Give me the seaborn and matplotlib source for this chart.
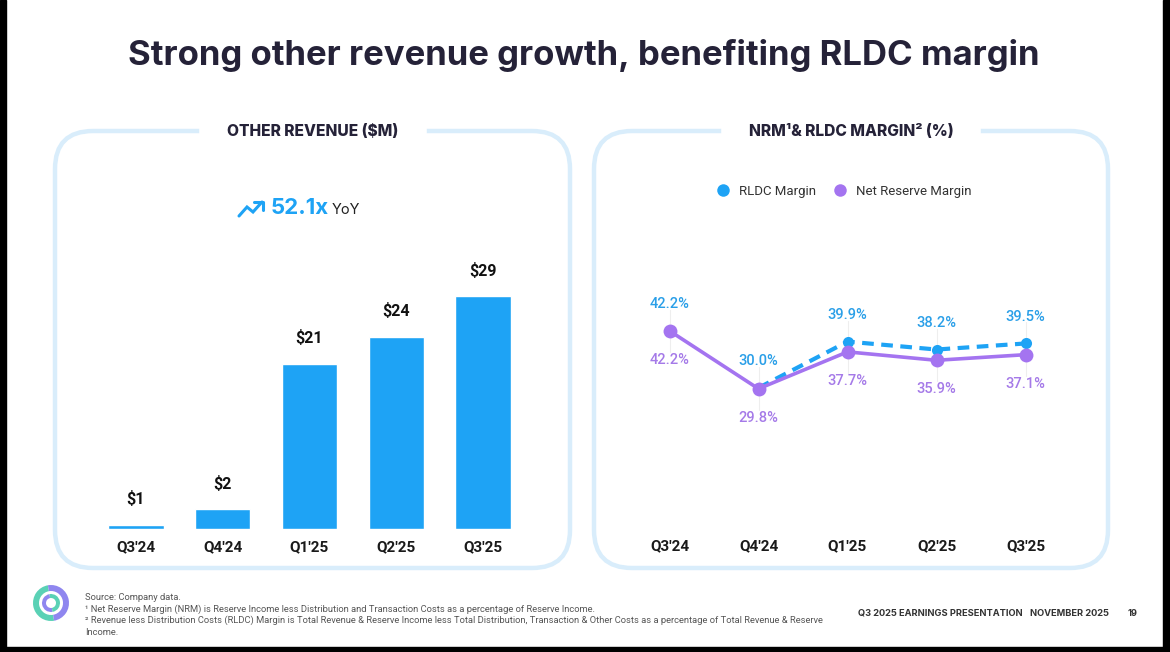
import matplotlib
matplotlib.use("Agg")
import matplotlib.pyplot as plt
import matplotlib.patches as mpatches
import matplotlib.lines as mlines
from matplotlib.transforms import IdentityTransform
import seaborn as sns

# data
quarters = ["Q3'24", "Q4'24", "Q1'25", "Q2'25", "Q3'25"]
other_revenue = [0.56, 2.45, 20.6, 23.9, 29.0]
revenue_labels = ["$1", "$2", "$21", "$24", "$29"]
rldc_margin = [42.2, 30.0, 39.9, 38.2, 39.5]
net_reserve_margin = [42.2, 29.8, 37.7, 35.9, 37.1]

W, H = 1170, 652
BLUE = "#1ea3f5"
PURPLE = "#a474f0"
BLUE_TXT = "#2a9fe8"
PURPLE_TXT = "#a57ae8"
NAVY = "#252238"
BOX = "#d9edfb"

sns.set_theme(style="white")
plt.rcParams["font.family"] = ["Roboto", "DejaVu Sans"]

fig = plt.figure(figsize=(W / 100, H / 100), dpi=100)
fig.patch.set_facecolor("white")
ident = IdentityTransform()


def fx(x):
    return x / W


def fy(y):
    return 1 - y / H


def ax_rect(x0, y0, x1, y1):
    return [fx(x0), fy(y1), fx(x1) - fx(x0), fy(y0) - fy(y1)]


# black edges of the screenshot
for (x0, y0, w, h) in [(0, 0, 6, H), (1163, 0, 7, H), (0, 647, W, 5)]:
    fig.add_artist(mpatches.Rectangle((x0, H - y0 - h), w, h, transform=ident,
                                      color="black", zorder=10))

fig.text(fx(584), fy(55), "Strong other revenue growth, benefiting RLDC margin",
         ha="center", va="center", fontsize=25, fontweight="bold",
         color=NAVY, family=["Inter", "DejaVu Sans"])

# panel boxes
for (x0, x1, title, cx) in [(55, 570, "OTHER REVENUE ($M)", 313),
                            (594, 1108, "NRM¹& RLDC MARGIN² (%)", 851)]:
    box = mpatches.FancyBboxPatch((x0, H - 568), x1 - x0, 568 - 131,
                                  boxstyle="round,pad=0,rounding_size=38",
                                  transform=ident, fill=False, edgecolor=BOX,
                                  linewidth=3.2, zorder=1)
    fig.add_artist(box)
    fig.text(fx(cx), fy(131), title, ha="center", va="center", fontsize=11.2,
             fontweight="heavy", color=NAVY, family=["Inter", "DejaVu Sans"],
             zorder=3,
             bbox=dict(boxstyle="square,pad=0", facecolor="white",
                       edgecolor="white", linewidth=40))

# ---- bar chart
ax1 = fig.add_axes(ax_rect(92.5, 240, 526.5, 529))
sns.barplot(x=quarters, y=other_revenue, color=BLUE, saturation=1,
            width=0.64, ax=ax1)
ax1.set_xlim(-0.5, 4.5)
ax1.set_ylim(0, 36)
for i, (v, lab) in enumerate(zip(other_revenue, revenue_labels)):
    ax1.annotate(lab, (i, v), xytext=(0, 18.5), textcoords="offset points",
                 ha="center", va="center", fontsize=11.5, fontweight="bold",
                 color="#111111")
ax1.set_yticks([])
ax1.tick_params(axis="x", length=0, pad=8, labelsize=11)
for t in ax1.get_xticklabels():
    t.set_fontweight("bold")
    t.set_color("#1a1a1a")
sns.despine(ax=ax1, left=True, bottom=True)
ax1.patch.set_alpha(0)

# YoY callout
arrow = [(239, 216), (247, 207), (253, 212), (262, 202)]
fig.add_artist(mlines.Line2D([fx(p[0]) for p in arrow], [fy(p[1]) for p in arrow],
                             color=BLUE, linewidth=2.2, solid_joinstyle="miter"))
fig.add_artist(mlines.Line2D([fx(254), fx(263), fx(263)], [fy(202), fy(202), fy(210)],
                             color=BLUE, linewidth=2.2))
fig.text(fx(271), fy(208), "52.1x", ha="left", va="center", fontsize=16,
         fontweight="bold", color=BLUE, family=["Inter", "DejaVu Sans"])
fig.text(fx(332), fy(210), "YoY", ha="left", va="center", fontsize=10.5,
         color="#222222", family=["Inter", "DejaVu Sans"])

# ---- line chart (numeric positions keep the quarter order)
pos = list(range(len(quarters)))
ax2 = fig.add_axes(ax_rect(625, 229, 1070, 528))
# RLDC dashed line runs from Q4'24; its Q3'24 point sits under the NRM marker
sns.lineplot(x=pos[1:], y=rldc_margin[1:], color=BLUE, linewidth=3,
             marker="o", markersize=8, markeredgewidth=0, ax=ax2, sort=False)
sns.lineplot(x=pos[:1], y=rldc_margin[:1], color=BLUE, marker="o",
             markersize=8, markeredgewidth=0, ax=ax2, sort=False)
sns.lineplot(x=pos, y=net_reserve_margin, color=PURPLE, linewidth=2.6,
             marker="o", markersize=10, markeredgewidth=0, ax=ax2, sort=False)
ax2.lines[0].set_dashes((2.8, 1.8))
ax2.set_xlim(-0.5, 4.5)
ax2.set_ylim(0, 64)
for i, (r, n) in enumerate(zip(rldc_margin, net_reserve_margin)):
    ax2.plot([i, i], [n - 4.5, r + 4.5], color="#eeeeee", linewidth=0.8, zorder=0)
    ax2.annotate(f"{r:.1f}%", (i, r), xytext=(0, 19), textcoords="offset points",
                 ha="center", va="center", fontsize=10.5, fontweight="medium",
                 color=BLUE_TXT)
    ax2.annotate(f"{n:.1f}%", (i, n), xytext=(0, -21), textcoords="offset points",
                 ha="center", va="center", fontsize=10.5, fontweight="medium",
                 color=PURPLE_TXT)
ax2.set_xticks(pos)
ax2.set_xticklabels(quarters)
ax2.set_yticks([])
ax2.set_ylabel("")
ax2.tick_params(axis="x", length=0, pad=8, labelsize=11)
for t in ax2.get_xticklabels():
    t.set_fontweight("bold")
    t.set_color("#1a1a1a")
sns.despine(ax=ax2, left=True, bottom=True)
ax2.patch.set_alpha(0)

# legend
for (mx, col, lab) in [(723, BLUE, "RLDC Margin"), (840, PURPLE, "Net Reserve Margin")]:
    fig.add_artist(mlines.Line2D([fx(mx)], [fy(190)], marker="o", markersize=9,
                                 color=col, markeredgewidth=0, linestyle="none"))
    fig.text(fx(mx + 16), fy(191), lab, ha="left", va="center", fontsize=9.5,
             color="#333333")

# ---- footer logo
logo_c = (51, H - 603)
fig.add_artist(mpatches.Wedge(logo_c, 18, 100, 280, width=6, transform=ident,
                              color="#5ad1b5", linewidth=0))
fig.add_artist(mpatches.Wedge(logo_c, 18, 280, 460, width=6, transform=ident,
                              color="#8f86ef", linewidth=0))
fig.add_artist(mpatches.Wedge(logo_c, 9, 100, 280, width=4, transform=ident,
                              color="#8f86ef", linewidth=0))
fig.add_artist(mpatches.Wedge(logo_c, 9, 280, 460, width=4, transform=ident,
                              color="#5ad1b5", linewidth=0))

notes = [
    "Source: Company data.",
    "¹ Net Reserve Margin (NRM) is Reserve Income less Distribution and Transaction Costs as a percentage of Reserve Income.",
    "² Revenue less Distribution Costs (RLDC) Margin is Total Revenue & Reserve Income less Total Distribution, Transaction & Other Costs as a percentage of Total Revenue & Reserve",
    "Income.",
]
for k, line in enumerate(notes):
    fig.text(fx(85), fy(597 + k * 11.8), line, ha="left", va="center", fontsize=6.75,
             color="#555555", family=["Liberation Sans Narrow", "Roboto", "DejaVu Sans"])

for (x, s) in [(858, "Q3 2025 EARNINGS PRESENTATION"), (1030, "NOVEMBER 2025"), (1128, "19")]:
    fig.text(fx(x), fy(613), s, ha="left", va="center", fontsize=6.7,
             fontweight="bold", color="#333333", family=["Inter", "DejaVu Sans"])

fig.savefig("out.png", dpi=100, facecolor="white")
